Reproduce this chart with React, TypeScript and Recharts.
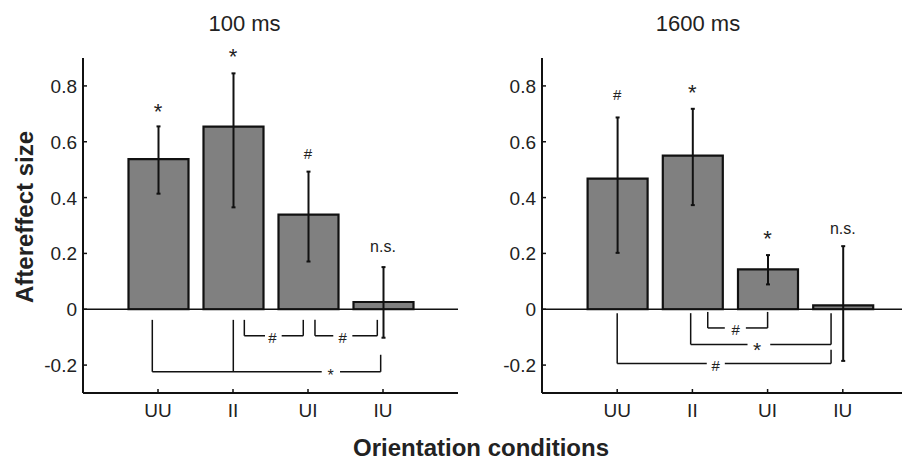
import React from 'react';
import { BarChart, Bar, XAxis, YAxis, ErrorBar, ReferenceLine, ReferenceDot } from 'recharts';

const conditions = ['UU', 'II', 'UI', 'IU'];
const positions = [1, 2, 3, 4];
const yTicks = [-0.2, 0, 0.2, 0.4, 0.6, 0.8];
const yTickLabels = ['-0.2', '0', '0.2', '0.4', '0.6', '0.8'];
const panelTitles = ['100 ms', '1600 ms'];

const effect100 = [0.538, 0.654, 0.339, 0.026];
const errLow100 = [0.124, 0.289, 0.168, 0.128];
const errHigh100 = [0.117, 0.191, 0.154, 0.125];
const sig100 = ['*', '*', '#', 'n.s.'];
const sigY100 = [0.7275, 0.925, 0.556, 0.22];

const effect1600 = [0.468, 0.55, 0.143, 0.014];
const errLow1600 = [0.266, 0.177, 0.054, 0.199];
const errHigh1600 = [0.219, 0.168, 0.051, 0.212];
const sig1600 = ['#', '*', '*', 'n.s.'];
const sigY1600 = [0.767, 0.796, 0.2725, 0.286];

type Bracket = { legs: number[]; tops: number[]; base: number; label: string; mid: number; gapL: number; gapR: number };

const brackets100: Bracket[] = [
  { legs: [2.151, 2.937], tops: [-0.038, -0.038], base: -0.095, label: '#', mid: 2.524, gapL: 2.427, gapR: 2.649 },
  { legs: [3.093, 3.924], tops: [-0.038, -0.038], base: -0.095, label: '#', mid: 3.463, gapL: 3.337, gapR: 3.591 },
  { legs: [0.924, 2.004, 3.969], tops: [-0.038, -0.038, -0.163], base: -0.224, label: '*', mid: 3.3, gapL: 3.183, gapR: 3.427 },
];
const brackets1600: Bracket[] = [
  { legs: [2.204, 3.0], tops: [-0.0096, -0.0096], base: -0.067, label: '#', mid: 2.577, gapL: 2.431, gapR: 2.711 },
  { legs: [1.977, 3.844], tops: [-0.014, -0.014], base: -0.126, label: '*', mid: 2.86, gapL: 2.733, gapR: 3.035 },
  { legs: [1.0, 3.844], tops: [-0.014, -0.145], base: -0.194, label: '#', mid: 2.311, gapL: 2.191, gapR: 2.431 },
];

const FONT = '"Liberation Sans", Arial, Helvetica, sans-serif';
const INK = '#111';
const TXT = '#222';

function buildRows(values: number[], low: number[], high: number[]) {
  return positions.map((p, i) => ({ pos: p, name: conditions[i], value: values[i], err: [low[i], high[i]] }));
}

const YTick = (props: any) => {
  const { x, y, payload } = props;
  const idx = yTicks.findIndex((t) => Math.abs(t - payload.value) < 1e-9);
  return (
    <g>
      <line x1={x} x2={x + 4} y1={y} y2={y} stroke={INK} strokeWidth={1.5} />
      <text x={x - 6} y={y + 7} textAnchor="end" fontSize={19} fontFamily={FONT} fill={TXT}>
        {idx >= 0 ? yTickLabels[idx] : ''}
      </text>
    </g>
  );
};

const XTick = (props: any) => {
  const { x, y, payload } = props;
  const idx = positions.indexOf(payload.value);
  return (
    <g>
      <line x1={x} x2={x} y1={y} y2={y - 4} stroke={INK} strokeWidth={1.5} />
      <text x={x} y={y + 23.5} textAnchor="middle" fontSize={19} fontFamily={FONT} fill={TXT}>
        {idx >= 0 ? conditions[idx] : ''}
      </text>
    </g>
  );
};

function glyphOffset(t: string, size: number) {
  if (t === '*') return 0.59 * size;
  if (t === '#') return 0.345 * size;
  return 0.265 * size;
}

function sigSize(t: string) {
  if (t === '*') return 22;
  if (t === '#') return 15;
  return 16;
}

const makeTextShape = (t: string, size: number, dy: number) => (props: any) => (
  <text
    x={props.cx}
    y={props.cy + glyphOffset(t, size) + dy}
    textAnchor="middle"
    fontSize={size}
    fontFamily={FONT}
    fill={TXT}
  >
    {t}
  </text>
);

function bracketElements(brackets: Bracket[], key: string, smallStar: boolean) {
  const els: React.ReactNode[] = [];
  brackets.forEach((b, bi) => {
    const xmin = Math.min(...b.legs);
    const xmax = Math.max(...b.legs);
    b.legs.forEach((lx, li) => {
      els.push(
        <ReferenceLine
          key={`${key}-l-${bi}-${li}`}
          segment={[{ x: lx, y: b.tops[li] }, { x: lx, y: b.base }]}
          stroke={INK}
          strokeWidth={1.5}
          ifOverflow="visible"
        />
      );
    });
    els.push(
      <ReferenceLine
        key={`${key}-h1-${bi}`}
        segment={[{ x: xmin, y: b.base }, { x: b.gapL, y: b.base }]}
        stroke={INK}
        strokeWidth={1.5}
        ifOverflow="visible"
      />
    );
    els.push(
      <ReferenceLine
        key={`${key}-h2-${bi}`}
        segment={[{ x: b.gapR, y: b.base }, { x: xmax, y: b.base }]}
        stroke={INK}
        strokeWidth={1.5}
        ifOverflow="visible"
      />
    );
    const size = b.label === '*' ? (smallStar && bi === 2 ? 16 : 21) : 15;
    const dy = b.label === '#' ? 2 : 0;
    els.push(
      <ReferenceDot
        key={`${key}-t-${bi}`}
        x={b.mid}
        y={b.base}
        r={0}
        ifOverflow="visible"
        shape={makeTextShape(b.label, size, dy)}
      />
    );
  });
  return els;
}

function Panel(props: {
  rows: any[];
  sig: string[];
  sigY: number[];
  brackets: Bracket[];
  left: number;
  width: number;
  yAxisWidth: number;
  id: string;
  smallStar: boolean;
}) {
  const { rows, sig, sigY, brackets, left, width, yAxisWidth, id, smallStar } = props;
  return (
    <div style={{ position: 'absolute', left, top: 0 }}>
      <BarChart width={width} height={463} data={rows} margin={{ top: 58, right: 12, bottom: 0, left: 0 }}>
        <XAxis
          type="number"
          dataKey="pos"
          domain={[0, 5]}
          ticks={positions}
          allowDataOverflow
          height={70}
          tickSize={0}
          tickMargin={0}
          tickLine={false}
          interval={0}
          axisLine={{ stroke: INK, strokeWidth: 2 }}
          tick={(p: any) => <XTick {...p} />}
        />
        <YAxis
          type="number"
          domain={[-0.3, 0.9]}
          ticks={yTicks}
          allowDataOverflow
          width={yAxisWidth}
          tickSize={0}
          tickMargin={0}
          tickLine={false}
          interval={0}
          axisLine={{ stroke: INK, strokeWidth: 2 }}
          tick={(p: any) => <YTick {...p} />}
        />
        <ReferenceLine y={0} stroke={INK} strokeWidth={1.5} />
        <Bar dataKey="value" fill="#808080" stroke={INK} strokeWidth={2.2} barSize={60} isAnimationActive={false}>
          <ErrorBar dataKey="err" width={2} stroke={INK} strokeWidth={2} direction="y" />
        </Bar>
        {bracketElements(brackets, id, smallStar)}
        {rows.map((r, i) => (
          <ReferenceDot
            key={`${id}-sig-${i}`}
            x={r.pos}
            y={sigY[i]}
            r={0}
            ifOverflow="visible"
            shape={makeTextShape(sig[i], sigSize(sig[i]), 0)}
          />
        ))}
      </BarChart>
    </div>
  );
}

export default function App() {
  const rows100 = buildRows(effect100, errLow100, errHigh100);
  const rows1600 = buildRows(effect1600, errLow1600, errHigh1600);
  return (
    <div
      style={{
        position: 'absolute',
        left: 0,
        top: 0,
        width: 902,
        height: 463,
        overflow: 'hidden',
        background: '#fff',
      }}
    >
      <Panel rows={rows100} sig={sig100} sigY={sigY100} brackets={brackets100} left={0} width={470} yAxisWidth={83} id="a" smallStar={true} />
      <Panel rows={rows1600} sig={sig1600} sigY={sigY1600} brackets={brackets1600} left={458} width={472} yAxisWidth={84} id="b" smallStar={false} />
      <svg width={902} height={463} style={{ position: 'absolute', left: 0, top: 0, pointerEvents: 'none' }}>
        <text x={244.5} y={31} textAnchor="middle" fontSize={22} fontFamily={FONT} fill={TXT}>
          {panelTitles[0]}
        </text>
        <text x={698} y={31} textAnchor="middle" fontSize={22} fontFamily={FONT} fill={TXT}>
          {panelTitles[1]}
        </text>
        <text
          x={33}
          y={217}
          transform="rotate(-90, 33, 217)"
          textAnchor="middle"
          fontSize={24}
          fontWeight="bold"
          fontFamily={FONT}
          fill={TXT}
        >
          Aftereffect size
        </text>
        <text x={481} y={456} textAnchor="middle" fontSize={24} fontWeight="bold" fontFamily={FONT} fill={TXT}>
          Orientation conditions
        </text>
      </svg>
    </div>
  );
}
